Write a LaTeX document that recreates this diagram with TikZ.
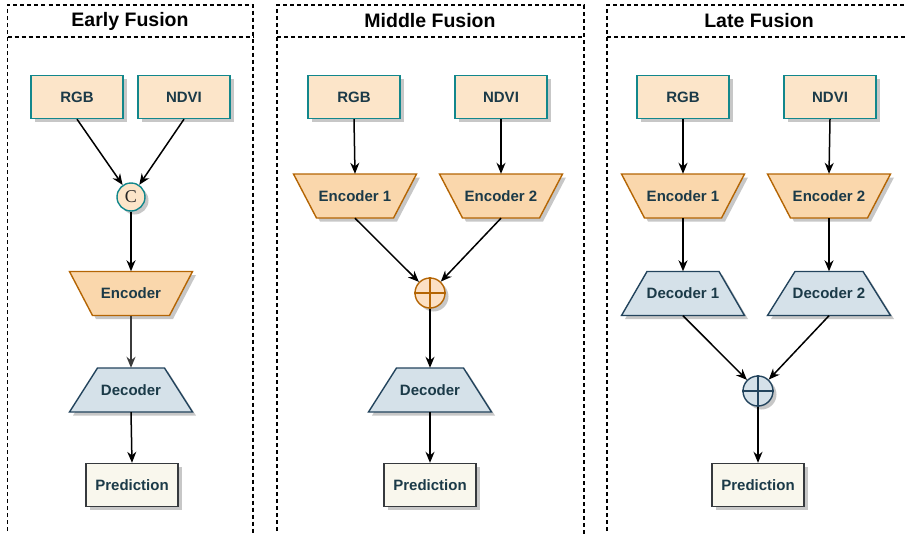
\documentclass[tikz,border=0pt]{standalone}
\usepackage{fontspec}
\setmainfont{Liberation Sans}
\newfontfamily\serifC{Liberation Serif}
\usetikzlibrary{shadows,arrows.meta}

\definecolor{inFill}{HTML}{FCE5C9}
\definecolor{inLine}{HTML}{12878C}
\definecolor{encFill}{HTML}{FAD7AC}
\definecolor{encLine}{HTML}{B46504}
\definecolor{decFill}{HTML}{D5E1E9}
\definecolor{decLine}{HTML}{23445D}
\definecolor{predFill}{HTML}{F9F7ED}
\definecolor{predLine}{HTML}{36393D}
\definecolor{txt}{HTML}{1B3A48}
\definecolor{sumFill}{HTML}{FCE0C4}
\definecolor{darkArrow}{HTML}{3B3B3B}

% name, x, y, top half width, bottom half width, shape style, text
\newcommand\trapez[7]{%
  \path[#6] (#2-#4,#3-22) -- (#2+#4,#3-22) -- (#2+#5,#3+22) -- (#2-#5,#3+22) -- cycle;
  \node[traptext] (#1) at (#2,#3) {#7};
}

\tikzset{
  shade/.style={drop shadow={shadow xshift=3.5pt,shadow yshift=-3.5pt,fill=black!22,opacity=1}},
  boxfont/.style={font=\bfseries\fontsize{15}{18}\selectfont, text=txt},
  inbox/.style={rectangle, draw=inLine, fill=inFill, line width=1.4pt,
    minimum width=92pt, minimum height=43pt, inner sep=0pt, shade, boxfont},
  predbox/.style={rectangle, draw=predLine, fill=predFill, line width=1.4pt,
    minimum width=92pt, minimum height=43pt, inner sep=0pt, shade, boxfont},
  traptext/.style={rectangle, minimum width=123pt, minimum height=44pt, inner sep=0pt, boxfont},
  encshape/.style={draw=encLine, fill=encFill, line width=1.4pt, line join=miter, shade},
  decshape/.style={draw=decLine, fill=decFill, line width=1.4pt, line join=miter, shade},
  catnode/.style={circle, draw=inLine, fill=inFill, line width=1.4pt, minimum size=28pt,
    inner sep=0pt, shade, font=\serifC\fontsize{18}{18}\selectfont, text=black!85},
  sumnode/.style={circle, line width=1.4pt, minimum size=30pt, inner sep=0pt, shade},
  arr/.style={-{Stealth[length=11pt,width=9pt,inset=3.5pt]}, line width=1.5pt, black},
  panel/.style={draw=black, line width=1.2pt, dash pattern=on 4pt off 3pt},
  title/.style={font=\bfseries\fontsize{19.5}{22}\selectfont, text=black}
}

\begin{document}
\begin{tikzpicture}[x=1pt,y=-1pt]
\useasboundingbox (0,0) rectangle (907,533);
\clip (0,0) rectangle (907,533);

% ---------- panels ----------
\draw[panel] (7.5,545) -- (7.5,5) -- (253,5) -- (253,545);
\draw[panel] (7.5,37) -- (253,37);
\node[title] (tA) at (130,21) {Early Fusion};

\draw[panel] (277,545) -- (277,5) -- (584,5) -- (584,545);
\draw[panel] (277,37) -- (584,37);
\node[title] (tB) at (430,21) {Middle Fusion};

\draw[panel] (607,545) -- (607,5) -- (915,5);
\draw[panel] (607,37) -- (915,37);
\node[title] (tC) at (759,21) {Late Fusion};

% ---------- early fusion ----------
\node[inbox] (rgbA) at (77,97) {RGB};
\node[inbox] (ndviA) at (184,97) {NDVI};
\node[catnode] (catA) at (131,197) {C};
\trapez{encA}{131}{293.5}{61.5}{38.5}{encshape}{Encoder}
\trapez{decA}{131}{390}{33.5}{61.5}{decshape}{Decoder}
\node[predbox] (predA) at (132,485) {Prediction};

\draw[arr] (rgbA.south) -- (catA);
\draw[arr] (ndviA.south) -- (catA);
\draw[arr] (catA.south) -- (encA.north);
\draw[arr, darkArrow] (encA.south) -- (decA.north);
\draw[arr] (decA.south) -- (predA.north);

% ---------- middle fusion ----------
\node[inbox] (rgbB) at (354,97) {RGB};
\node[inbox] (ndviB) at (501,97) {NDVI};
\trapez{enc1B}{355}{196}{61.5}{38.5}{encshape}{Encoder 1}
\trapez{enc2B}{501}{196}{61.5}{38.5}{encshape}{Encoder 2}
\node[sumnode, draw=encLine, fill=sumFill] (sumB) at (430,293) {};
\draw[encLine, line width=1.4pt] (sumB.north) -- (sumB.south) (sumB.west) -- (sumB.east);
\trapez{decB}{430}{390}{33.5}{61.5}{decshape}{Decoder}
\node[predbox] (predB) at (430,485) {Prediction};

\draw[arr] (rgbB.south) -- (enc1B.north);
\draw[arr] (ndviB.south) -- (enc2B.north);
\draw[arr] (enc1B.south) -- (sumB);
\draw[arr] (enc2B.south) -- (sumB);
\draw[arr] (sumB.south) -- (decB.north);
\draw[arr] (decB.south) -- (predB.north);

% ---------- late fusion ----------
\node[inbox] (rgbC) at (683,97) {RGB};
\node[inbox] (ndviC) at (830,97) {NDVI};
\trapez{enc1C}{683}{196}{61.5}{38.5}{encshape}{Encoder 1}
\trapez{enc2C}{829}{196}{61.5}{38.5}{encshape}{Encoder 2}
\trapez{dec1C}{683}{293.5}{36}{61.5}{decshape}{Decoder 1}
\trapez{dec2C}{829}{293.5}{34}{61.5}{decshape}{Decoder 2}
\node[sumnode, draw=decLine, fill=decFill] (sumC) at (758,391) {};
\draw[decLine, line width=1.4pt] (sumC.north) -- (sumC.south) (sumC.west) -- (sumC.east);
\node[predbox] (predC) at (758,485) {Prediction};

\draw[arr] (rgbC.south) -- (enc1C.north);
\draw[arr] (ndviC.south) -- (enc2C.north);
\draw[arr] (enc1C.south) -- (dec1C.north);
\draw[arr] (enc2C.south) -- (dec2C.north);
\draw[arr] (dec1C.south) -- (sumC);
\draw[arr] (dec2C.south) -- (sumC);
\draw[arr] (sumC.south) -- (predC.north);
\end{tikzpicture}
\end{document}
